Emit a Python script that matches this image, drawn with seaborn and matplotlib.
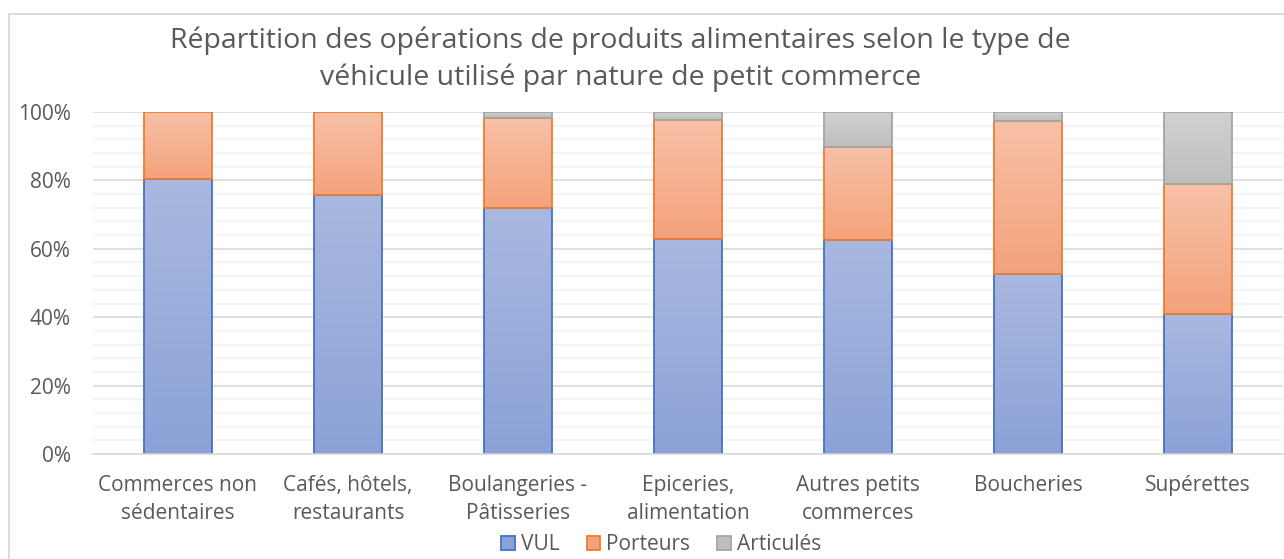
import numpy as np
import pandas as pd
import matplotlib
matplotlib.use("Agg")
import matplotlib.pyplot as plt
from matplotlib.colors import to_rgb
from matplotlib.lines import Line2D
from matplotlib.patches import Patch
from matplotlib.ticker import MultipleLocator, PercentFormatter
import seaborn as sns

# data (percent of operations)
categories = ["Commerces non\nsédentaires", "Cafés, hôtels,\nrestaurants",
              "Boulangeries -\nPâtisseries", "Epiceries,\nalimentation",
              "Autres petits\ncommerces", "Boucheries", "Supérettes"]
vul = [80.4, 75.7, 71.9, 62.8, 62.5, 52.5, 40.9]
porteurs = [19.6, 24.3, 26.3, 34.9, 27.2, 45.0, 38.0]
articules = [0.0, 0.0, 1.8, 2.3, 10.3, 2.5, 21.1]

series = ["VUL", "Porteurs", "Articulés"]
# (gradient top, gradient bottom, edge)
styles = {
    "VUL": ("#A9B8E0", "#8CA2D7", "#4472C4"),
    "Porteurs": ("#F7C1A8", "#F4A27B", "#ED7D31"),
    "Articulés": ("#D2D2D2", "#BEBEBE", "#A5A5A5"),
}

TXT = "#595959"
GRID = "#D9D9D9"

sns.set_theme(style="white")
plt.rcParams["font.family"] = ["Open Sans", "DejaVu Sans"]

df = pd.DataFrame({"categorie": categories, "VUL": vul,
                   "Porteurs": porteurs, "Articulés": articules})

fig = plt.figure(figsize=(12.84, 5.59), dpi=100)
ax = fig.add_axes([93 / 1284, 1 - 454 / 559, 1190 / 1284, 342 / 559])


def gradient_fill(ax, patches, top, bottom):
    t = np.linspace(0, 1, 128)[:, None, None]
    img = np.array(to_rgb(top)) * (1 - t) + np.array(to_rgb(bottom)) * t
    for p in patches:
        h = p.get_height()
        if h <= 0:
            p.set_visible(False)
            continue
        x, y, w = p.get_x(), p.get_y(), p.get_width()
        ax.imshow(img, extent=(x, x + w, y, y + h), origin="upper",
                  aspect="auto", interpolation="bilinear", zorder=1.5)
        p.set_facecolor("none")
        p.set_zorder(2)


base = np.zeros(len(categories))
for name in series:
    top, bot, edge = styles[name]
    sns.barplot(data=df, x="categorie", y=name, bottom=base, width=0.4,
                color=top, edgecolor=edge, linewidth=1.3, ax=ax)
    gradient_fill(ax, ax.containers[-1], top, bot)
    base = base + df[name].to_numpy()

ax.set_xlim(-0.5, 6.5)
ax.set_ylim(0, 100)
ax.set_xlabel("")
ax.set_ylabel("")

ax.yaxis.set_major_locator(MultipleLocator(20))
ax.yaxis.set_minor_locator(MultipleLocator(4))
ax.yaxis.set_major_formatter(PercentFormatter(decimals=0))
ax.set_axisbelow(True)
ax.grid(axis="y", which="major", color=GRID, lw=1.2)
ax.grid(axis="y", which="minor", color="#F2F2F2", lw=1.2)
ax.tick_params(axis="both", which="both", length=0, colors=TXT, labelsize=15)
ax.tick_params(axis="y", pad=16)
ax.tick_params(axis="x", pad=15)
for lab in ax.get_xticklabels():
    lab.set_linespacing(1.45)
for s in ["left", "right", "top"]:
    ax.spines[s].set_visible(False)
ax.spines["bottom"].set_color(GRID)
ax.spines["bottom"].set_linewidth(1.2)

# title, two lines
fig.text(0.483, 1 - 48 / 559, "Répartition des opérations de produits alimentaires selon le type de",
         ha="center", va="baseline", fontsize=20.5, color=TXT)
fig.text(0.483, 1 - 85 / 559, "véhicule utilisé par nature de petit commerce",
         ha="center", va="baseline", fontsize=20.5, color=TXT)

handles = [Patch(facecolor=styles[n][1], edgecolor=styles[n][2], lw=1.3, label=n)
           for n in series]
fig.legend(handles=handles, loc="center", bbox_to_anchor=(0.515, 1 - 545 / 559),
           ncol=3, frameon=False, fontsize=15, labelcolor=TXT,
           handlelength=0.65, handleheight=0.65, handletextpad=0.3, columnspacing=1.3)

# chart area border (Excel style)
fig.add_artist(Line2D([9 / 1284, 1], [1 - 14 / 559] * 2, transform=fig.transFigure,
                      color=GRID, lw=1.3))
fig.add_artist(Line2D([9 / 1284] * 2, [0, 1 - 14 / 559], transform=fig.transFigure,
                      color=GRID, lw=1.3))

fig.savefig("out.png", dpi=100)
